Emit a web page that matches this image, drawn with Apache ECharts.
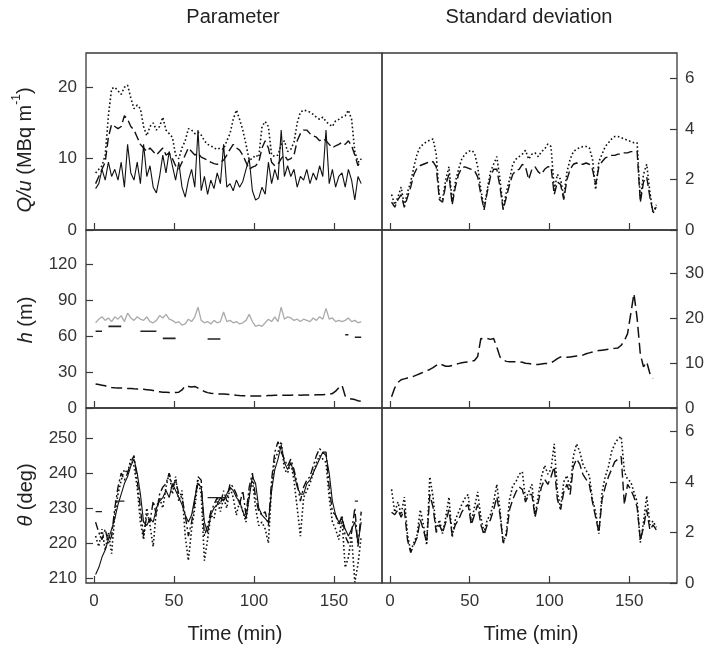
<!DOCTYPE html>
<html><head><meta charset="utf-8">
<script src="https://cdn.jsdelivr.net/npm/echarts@6/dist/echarts.min.js"></script>
<style>html,body{margin:0;padding:0;background:#fff}#c{width:710px;height:649px}</style>
</head><body><div id="c"></div><script>
// time (min)
const time = [1,3,5,7,9,11,13,15,17,19,21,23,25,27,29,31,33,35,37,39,41,43,45,47,49,51,53,55,57,59,
61,63,65,67,69,71,73,75,77,79,81,83,85,87,89,91,93,95,97,99,101,103,105,107,109,111,113,115,117,119,
121,123,125,127,129,131,133,135,137,139,141,143,145,147,149,151,153,155,157,159,161,163,165,167];
const xTicks = [0,50,100,150];

// Q/u (MBq m-1)
const qSolid = [5.8,6.5,8.5,7,9.5,7.5,8.5,7,9.5,6, 12,8,7,9.5,6.5,12,7.5,9,6,5.2, 7.5,10.5,8,11,9,7,9.5,6,4.6,7,
 8.5,6,14,5.5,7.5,5,7,5.8,8,6.5, 12,6,6.5,5.5,7,6,6.8,8.5,10,5.5, 4.2,4.5,6,5,9.5,6.5,8.5,7,14,7.5,
 9,7.5,8.5,6,7.5,7,8.5,6.5,8,7, 9,7.5,14,6.5,8.5,6,7.5,8,6,8.5, 7,4.2,7.5,6.5];
const qDash = [6.5,7.5,8.5,9.5,13,14.8,14.5,14.2,14.5,16, 15.5,14.5,14,13,12,11.5,11,11.5,11,10.5, 11,11.5,10.5,10.8,10,9,8.5,9.5,10.5,11.5,
 11,10.5,10.8,10.2,10,9.8,9.5,9.3,9.2,9.5, 9.8,10.5,11.3,12,11.5,11.2,10.5,9.5,8.5,8.8, 9,9.5,11.5,12.5,11.5,9.5,9,9.2,10,10.5,
 9.8,10,10.5,12.5,13.5,14,14,13.5,13.2,13, 12.5,12.8,12.5,12,11.5,11.8,12,12.3,12,12.5, 11.8,10.5,9,10];
const qDot = [8,8.5,9,10.5,16,19.8,20,19.5,19,20, 20.3,18.5,17,17.5,17,14.5,13.2,14.5,15,14, 14.5,15.8,14,13.5,13,10.5,10,11.5,12.5,14.2,
 14,13.5,13.7,13.3,12.5,12,11.8,11.5,11.3,11.5, 11.3,12.5,13.5,15.5,16.8,15.5,14,12,9.8,10, 10.5,10.2,14.5,15.2,14.5,10.5,10.3,10.5,12,12.5,
 11,11.3,12.3,15,16.5,16.8,16.7,16.5,16.2,15.8, 15.5,15.8,15.2,14.8,14.5,15.3,15.5,15.8,16,16.8, 15.5,11,9.5,9.8];
const sdQDot = [1.4,1.0,1.3,1.7,0.95,1.5,1.9,2.5,3.0,3.3, 3.4,3.5,3.55,3.6,3.0,1.3,1.2,2.0,2.5,1.1, 1.9,2.4,2.8,3.0,3.1,3.15,3.05,2.5,1.6,0.85,
 1.6,2.3,2.6,2.9,2.0,0.85,1.5,2.0,2.6,2.8, 2.9,3.0,3.15,2.8,3.0,3.05,2.9,3.1,3.2,3.4, 3.3,1.6,2.2,2.0,1.3,2.3,2.8,3.1,3.2,3.25,
 3.3,3.3,3.25,2.8,1.6,2.7,3.0,3.3,3.45,3.6, 3.7,3.7,3.65,3.6,3.55,3.5,3.45,3.45,1.2,2.2, 2.6,1.5,0.65,1.0];
const sdQDash = [1.1,0.9,1.2,1.4,0.9,1.3,1.7,2.2,2.45,2.55, 2.6,2.65,2.7,2.7,2.5,1.2,1.1,1.8,2.2,1.0, 1.7,2.2,2.45,2.5,2.45,2.4,2.35,2.1,1.4,0.8,
 1.5,2.1,2.4,2.4,1.7,0.8,1.3,1.8,2.2,2.35, 2.4,2.6,2.5,2.0,2.4,2.5,2.3,2.2,2.4,2.5, 2.5,1.4,1.9,1.8,1.2,2.0,2.4,2.6,2.65,2.6,
 2.6,2.65,2.6,2.4,1.8,2.5,2.7,2.85,2.9,2.95, 2.95,3.0,3.0,3.05,3.05,3.1,3.1,3.1,1.1,1.9, 2.1,1.3,0.7,0.9];

// h (m)
const hGray = [71,74,76,73,75,72,76,74,77,72, 79,75,73,76,74,73,76,72,71,73, 77,75,78,74,73,71,72,69,70,74,
 72,76,84,73,71,72,70,73,71,72, 80,72,73,71,72,70,71,73,78,72, 68,69,68,71,74,72,76,72,84,74,
 76,75,73,74,72,74,73,72,75,73, 76,74,83,74,75,72,73,72,73,75, 72,73,71,72];
const hSeg = [64,64,64,null,68,68,68,68,68,null, null,null,null,null,64,64,64,64,64,64, null,58,58,58,58,58,null,null,null,null,
 null,null,null,null,null,57.5,57.5,57.5,57.5,57.5, null,null,null,null,null,null,null,null,null,null, null,null,null,null,null,null,null,null,null,null,
 null,null,null,null,null,null,null,null,null,null, null,null,null,null,null,null,null,null,61,61, null,59,59,59];
const hLow = [20,19.5,19,18.5,17.5,17,16.8,16.7,16.6,16.5, 16.3,16.2,16,15.9,15.8,15.6,15.3,15,14.5,13.8, 13.5,13.2,13.1,13,13,13,13.2,15,18.5,18,
 17.5,18,16.5,15,13.8,12.8,12.3,12,11.8,11.7, 11.6,11.5,11.3,11,10.6,10.4,10.3,10.2,10.1,10, 9.9,9.9,10,10.2,10.4,10.5,10.6,10.6,10.7,10.7,
 10.6,10.7,10.8,10.8,10.7,10.8,10.8,10.9,10.9,11, 11,11,11.2,11.5,12,14,17,19,10,8, 7.5,7,6,5.5];
const sdH = [2.5,4.5,5.7,6.3,6.5,6.7,6.9,7.1,7.4,7.7, 8,8.3,8.6,9,9.5,9.9,9.6,9.3,9.3,9.5, 9.7,9.9,10.1,10.2,10.3,10.4,10.6,11.5,15.5,15.4,
 15.5,15.3,15.5,13.6,11.4,10.7,10.4,10.3,10.3,10.3, 10.3,10.2,10,9.9,9.8,9.7,9.7,9.8,9.9,9.9, 10.1,10.5,11,11.4,11.4,11.3,11.4,11.5,11.6,11.7,
 11.8,12.1,12.3,12.5,12.7,12.8,12.9,13,13.1,13.2, 13.3,13.4,14,15,16.6,21,25.5,20,12,9.2, 10.3,7.7,6.6,null];

// theta (deg)
const thSolid = [211,213,216,218,221,224,227,231,234,237, 239,242,244,240,234,226,225,227,226,230, 232,233,235,233,237,235,233,231,228,226,
 228,233,237,236,226,223,228,230,231,233, 232,234,236,235,233,232,229,227,233,239, 237,230,228,227,226,235,241,244,248,243,
 241,243,240,236,234,234,237,238,240,242, 244,246,245,240,232,228,226,227,224,222, 224,226,220,226];
const thDashDot = [226,223,221,224,220,222,230,236,240,238, 240,243,245,238,230,222,228,226,232,228, 234,236,237,240,236,238,234,233,228,222,
 226,232,239,238,222,225,229,231,233,231, 235,232,237,236,234,231,235,228,236,240, 233,229,228,229,225,238,246,249,246,244,
 242,244,241,237,232,236,238,239,242,245, 247,246,246,236,229,228,225,228,222,220, 223,230,219,229];
const thDot = [222,219,224,218,223,217,228,234,238,241, 240,244,242,236,226,221,230,225,219,230, 233,230,236,240,234,239,232,235,222,215,
 224,230,238,234,215,221,228,227,232,229, 233,230,236,233,228,232,229,226,234,238, 230,225,226,224,220,236,244,246,249,241,
 240,243,238,230,222,233,235,237,240,243, 245,244,243,233,226,224,221,227,213,216, 222,208.8,214,222];
const thSeg = [229,229,229,null,null,null,232,232,232,232, null,null,null,null,null,null,null,null,null,null, null,null,null,null,null,null,null,null,null,null,
 null,null,null,null,null,233,233,233,233,233, 233,233,null,null,null,null,null,null,null,null, null,null,null,null,null,null,null,null,null,null,
 null,null,null,null,null,null,null,null,null,null, null,null,null,null,null,null,null,null,null,null, null,232,232,null];
const sdThDot = [3.7,2.8,3.2,2.7,3.4,1.9,1.25,1.6,1.9,2.9, 2.3,1.5,4.2,3.4,2.1,2.5,1.95,2.6,3.4,1.8, 2.5,2.8,3.1,3.35,3.5,2.4,3.0,3.6,2.6,2.0,
 2.5,2.7,3.2,3.9,2.9,1.55,2.0,3.3,3.85,4.0, 4.3,4.4,3.3,3.6,3.9,2.65,3.45,4.2,4.65,4.3, 4.5,5.5,3.6,2.95,4.0,4.25,3.7,5.0,5.5,5.2,
 4.7,4.45,4.25,3.3,2.8,1.95,3.6,4.2,4.6,5.2, 5.5,5.7,5.8,4.4,4.1,4.0,3.6,3.2,1.6,2.4, 3.45,2.3,2.45,2.2];
const sdThDash = [2.8,2.7,2.9,2.6,2.9,1.7,1.2,1.5,1.8,2.5, 2.1,1.6,3.5,3.0,2.0,2.3,2.0,2.4,2.9,1.9, 2.3,2.5,2.8,3.0,3.1,2.3,2.7,3.1,2.3,1.9,
 2.3,2.5,2.9,3.4,2.7,1.6,1.9,2.9,3.3,3.6, 3.8,3.7,3.2,3.5,3.5,2.6,3.2,3.8,4.1,3.9, 4.2,4.6,3.3,2.9,3.6,3.9,3.5,4.6,4.9,4.7,
 4.3,4.1,3.9,3.2,2.6,2.0,3.3,3.8,4.2,4.5, 4.8,4.9,5.0,3.1,3.9,3.7,3.4,3.0,1.7,2.2, 2.9,2.1,2.3,2.1];

const FONT = '"Liberation Sans", Arial, Helvetica, sans-serif';
const AX = '#3a3a3a';
const chart = echarts.init(document.getElementById('c'), null, {renderer: 'canvas'});

const gridDefs = [
  {left: 86, top: 53, width: 296, height: 177},
  {left: 382, top: 53, width: 295, height: 177},
  {left: 86, top: 230, width: 296, height: 178},
  {left: 382, top: 230, width: 295, height: 178},
  {left: 86, top: 408, width: 296, height: 175},
  {left: 382, top: 408, width: 295, height: 175}
];
const yDefs = [
  {min: 0, max: 24.8, ticks: [0, 10, 20], pos: 'left'},
  {min: 0, max: 7.0, ticks: [0, 2, 4, 6], pos: 'right'},
  {min: 0, max: 148.3, ticks: [0, 30, 60, 90, 120], pos: 'left'},
  {min: 0, max: 39.7, ticks: [0, 10, 20, 30], pos: 'right'},
  {min: 208.6, max: 258.6, ticks: [210, 220, 230, 240, 250], pos: 'left'},
  {min: 0, max: 6.92, ticks: [0, 2, 4, 6], pos: 'right'}
];

const grid = gridDefs.map(g => Object.assign({show: true, borderColor: AX, borderWidth: 1.3, backgroundColor: 'transparent', containLabel: false}, g));
const xAxis = gridDefs.map((g, i) => ({
  type: 'value', gridIndex: i, min: -5, max: 180, position: 'bottom',
  splitLine: {show: false}, axisLine: {show: false, onZero: false},
  axisTick: {show: true, inside: true, length: 7, customValues: xTicks, lineStyle: {color: AX, width: 1.2}},
  axisLabel: {show: i >= 4, customValues: xTicks, margin: 10, fontSize: 17, color: '#333', fontFamily: FONT}
}));
const yAxis = yDefs.map((d, i) => ({
  type: 'value', gridIndex: i, position: d.pos, min: d.min, max: d.max,
  splitLine: {show: false}, axisLine: {show: false, onZero: false},
  axisTick: {show: true, inside: true, length: 7, customValues: d.ticks, lineStyle: {color: AX, width: 1.2}},
  axisLabel: {show: true, customValues: d.ticks, margin: d.pos === 'left' ? 9 : 8, fontSize: 17, color: '#333', fontFamily: FONT}
}));

function mk(arr, gi, style, color, width) {
  return {
    type: 'line', xAxisIndex: gi, yAxisIndex: gi, showSymbol: false, symbol: 'none',
    connectNulls: false, animation: false, silent: true,
    lineStyle: {color: color || '#111', width: width || 1.2, type: style || 'solid', cap: 'butt'},
    data: time.map((t, k) => [t, arr[k]])
  };
}
const DOT = [1.6, 2.4];
const DASH = [9, 4];
const series = [
  mk(qSolid, 0, 'solid', '#111', 1.1),
  mk(qDash, 0, DASH, '#111', 1.4),
  mk(qDot, 0, DOT, '#111', 1.6),
  mk(sdQDot, 1, DOT, '#111', 1.6),
  mk(sdQDash, 1, DASH, '#111', 1.4),
  mk(hGray, 2, 'solid', '#aaaaaa', 1.3),
  mk(hSeg, 2, 'solid', '#222', 1.6),
  mk(hLow, 2, [11, 5], '#111', 1.5),
  mk(sdH, 3, [11, 5], '#111', 1.5),
  mk(thSolid, 4, 'solid', '#111', 1.1),
  mk(thDashDot, 4, [8, 3, 2, 3], '#111', 1.4),
  mk(thDot, 4, DOT, '#111', 1.6),
  mk(thSeg, 4, 'solid', '#222', 1.3),
  mk(sdThDot, 5, DOT, '#111', 1.6),
  mk(sdThDash, 5, DASH, '#111', 1.4)
];

const txt = (x, y, text, extra) => ({
  type: 'text', x: x, y: y, silent: true,
  style: Object.assign({text: text, fontSize: 20, fontFamily: FONT, fill: '#222', align: 'center', verticalAlign: 'middle'}, extra || {})
});
const rich = {
  i: {fontStyle: 'italic', fontSize: 20, fontFamily: FONT, lineHeight: 28, fill: '#222'},
  n: {fontSize: 20, fontFamily: FONT, lineHeight: 28, fill: '#222'},
  s: {fontSize: 12, fontFamily: FONT, verticalAlign: 'top', lineHeight: 14, fill: '#222'}
};
const graphic = [
  txt(233, 17, 'Parameter'),
  txt(529, 17, 'Standard deviation'),
  txt(235, 634, 'Time (min)'),
  txt(531, 634, 'Time (min)'),
  Object.assign(txt(25, 150, '{i|Q/u}{n| (MBq m}{s|-1}{n|)}', {rich: rich}), {rotation: Math.PI / 2}),
  Object.assign(txt(26, 320, '{i|h}{n| (m)}', {rich: rich}), {rotation: Math.PI / 2}),
  Object.assign(txt(26, 495, '{i|θ}{n| (deg)}', {rich: rich}), {rotation: Math.PI / 2})
];

chart.setOption({
  animation: false,
  backgroundColor: '#fff',
  textStyle: {fontFamily: FONT},
  grid: grid, xAxis: xAxis, yAxis: yAxis, series: series, graphic: graphic
});
</script></body></html>
